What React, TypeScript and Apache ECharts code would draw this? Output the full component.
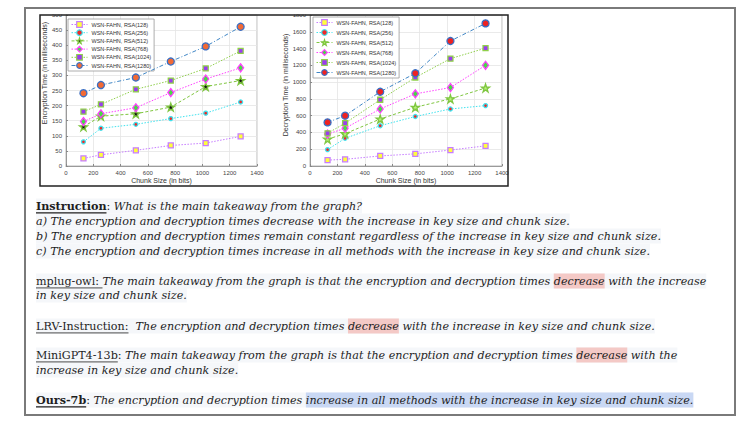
import React, { useEffect, useRef } from "react";
import * as echarts from "echarts";

// ---------- data ----------
const chunkSizes = [128, 256, 512, 768, 1024, 1280];
const seriesNames = [
  "WSN-FAHN, RSA(128)",
  "WSN-FAHN, RSA(256)",
  "WSN-FAHN, RSA(512)",
  "WSN-FAHN, RSA(768)",
  "WSN-FAHN, RSA(1024)",
  "WSN-FAHN, RSA(1280)",
];
const encRSA128 = [25, 37, 52, 68, 76, 98];
const encRSA256 = [80, 125, 138, 157, 175, 212];
const encRSA512 = [130, 165, 173, 195, 263, 283];
const encRSA768 = [147, 173, 193, 243, 288, 325];
const encRSA1024 = [180, 204, 254, 283, 323, 381];
const encRSA1280 = [241, 268, 293, 346, 396, 461];

const decRSA128 = [70, 80, 120, 145, 190, 240];
const decRSA256 = [195, 330, 480, 590, 680, 720];
const decRSA512 = [320, 385, 560, 700, 800, 930];
const decRSA768 = [380, 450, 680, 860, 935, 1200];
const decRSA1024 = [390, 510, 790, 1055, 1280, 1405];
const decRSA1280 = [520, 600, 885, 1105, 1490, 1700];

const encData = [encRSA128, encRSA256, encRSA512, encRSA768, encRSA1024, encRSA1280];
const decData = [decRSA128, decRSA256, decRSA512, decRSA768, decRSA1024, decRSA1280];

const xAxisMin = 0;
const xAxisMax = 1400;
const xAxisStep = 200;
const encAxisMax = 500;
const encAxisStep = 50;
const decAxisMax = 1800;
const decAxisStep = 200;

const xAxisTitle = "Chunk Size (in bits)";
const encAxisTitle = "Encryption Time (in milliseconds)";
const decAxisTitle = "Decryption Time (in milliseconds)";

// text block: [text, kind]
type Seg = [string, string];
const textLines: Seg[][] = [
  [["Instruction", "labelBold"], [": ", "plain"], ["What is the main takeaway from the graph?", "it"]],
  [["a) The encryption and decryption times decrease with the increase in key size and chunk size.", "it"]],
  [["b) The encryption and decryption times remain constant regardless of the increase in key size and chunk size.", "it"]],
  [["c) The encryption and decryption times increase in all methods with the increase in key size and chunk size.", "it"]],
  [["mplug-owl: ", "label"], ["The main takeaway from the graph is that the encryption and decryption times ", "it"], ["decrease", "pink"], [" with the increase", "it"]],
  [["in key size and chunk size.", "it"]],
  [["LRV-Instruction:", "label"], ["  The encryption and decryption times ", "it"], ["decrease", "pink"], [" with the increase in key size and chunk size.", "it"]],
  [["MiniGPT4-13b", "label"], [": ", "plain"], ["The main takeaway from the graph is that the encryption and decryption times ", "it"], ["decrease", "pink"], [" with the", "it"]],
  [["increase in key size and chunk size.", "it"]],
  [["Ours-7b", "labelBold"], [": ", "plain"], ["The encryption and decryption times ", "it"], ["increase in all methods with the increase in key size and chunk size.", "blue"]],
];
const lineCenters = [206, 221, 236, 251, 281, 295, 326, 355, 370, 400];

// ---------- styles ----------
const STAR = "path://M50,0L61.8,35.4L98.5,35.4L68.8,57.3L80.2,92.7L50,70.8L19.8,92.7L31.2,57.3L1.5,35.4L38.2,35.4Z";
const seriesStyles = [
  { line: "#c77dff", dash: [1.5, 1.5], symbol: "rect", size: 5, fillL: "#ffff3a", fillR: "#ffff3a", border: "#c77dff" },
  { line: "#3fe3ef", dash: [1.5, 1.5], symbol: "circle", size: 4, fillL: "#ee2a2a", fillR: "#ee2a2a", border: "#3fe3ef" },
  { line: "#7fc640", dash: [3, 2], symbol: STAR, size: 8, fillL: "#111111", fillR: "#b8f27a", border: "#7fc640" },
  { line: "#ff40ff", dash: [1.5, 1.5], symbol: "diamond", size: [6, 8], fillL: "#44dd44", fillR: "#44dd44", border: "#ff40ff" },
  { line: "#8fcf4a", dash: [1.5, 1.5], symbol: "rect", size: 5, fillL: "#9a3cf0", fillR: "#9a3cf0", border: "#8fcf4a" },
  { line: "#3f86c6", dash: [4, 2, 1, 2], symbol: "circle", size: 7, fillL: "#f26a35", fillR: "#ee2222", border: "#3a6fc4" },
];

const AXIS_FONT = "Liberation Sans, Arial, sans-serif";
const SERIF = '"DejaVu Serif", serif';

function axisX(gridIndex: number) {
  return {
    type: "value",
    gridIndex,
    min: xAxisMin,
    max: xAxisMax,
    interval: xAxisStep,
    name: xAxisTitle,
    nameLocation: "middle",
    nameGap: 11,
    nameTextStyle: { fontSize: 7, color: "#333", fontFamily: AXIS_FONT },
    axisLine: { show: true, lineStyle: { color: "#888", width: 0.8 } },
    axisTick: { show: true, inside: true, length: 2, lineStyle: { color: "#888" } },
    axisLabel: { fontSize: 6, color: "#444", margin: 4, fontFamily: AXIS_FONT, formatter: (v: number) => String(v) },
    splitLine: { show: true, lineStyle: { color: "#e4e4e4", width: 0.8 } },
  };
}
function axisY(gridIndex: number, max: number, step: number) {
  return {
    type: "value",
    gridIndex,
    min: 0,
    max,
    interval: step,
    axisLine: { show: true, lineStyle: { color: "#888", width: 0.8 } },
    axisTick: { show: true, inside: true, length: 2, lineStyle: { color: "#888" } },
    axisLabel: { fontSize: 6, color: "#444", margin: 4, fontFamily: AXIS_FONT, formatter: (v: number) => String(v) },
    splitLine: { show: true, lineStyle: { color: "#e4e4e4", width: 0.8 } },
  };
}

function buildSeries(data: number[][], gridIdx: number, right: boolean) {
  return data.map((vals, i) => {
    const st = seriesStyles[i];
    return {
      type: "line",
      name: seriesNames[i],
      xAxisIndex: gridIdx,
      yAxisIndex: gridIdx,
      data: chunkSizes.map((c, j) => [c, vals[j]]),
      symbol: st.symbol,
      symbolSize: st.size,
      showAllSymbol: true,
      lineStyle: { color: st.line, width: 1, type: st.dash },
      itemStyle: { color: right ? st.fillR : st.fillL, borderColor: st.border, borderWidth: 1.3 },
      emphasis: { disabled: true },
      z: 3 + i,
    };
  });
}

function buildLegend(left: number, top: number, gap: number, right: boolean) {
  return {
    left,
    top,
    orient: "vertical",
    itemWidth: 16,
    itemHeight: 7,
    itemGap: gap,
    padding: [2, 3, 2, 3],
    backgroundColor: "#fff",
    borderColor: "#999",
    borderWidth: 0.8,
    selectedMode: false,
    textStyle: { fontSize: 5.5, lineHeight: 7, color: "#333", fontFamily: AXIS_FONT, padding: [0, 0, 0, -1] },
    data: seriesNames.map((n, i) => {
      const st = seriesStyles[i];
      return {
        name: n,
        itemStyle: { color: right ? st.fillR : st.fillL, borderColor: st.border, borderWidth: 1.2 },
        lineStyle: { color: st.line, width: 1, type: st.dash },
      };
    }),
  };
}

function buildTextGraphics(): any[] {
  const cvs = document.createElement("canvas");
  const ctx = cvs.getContext("2d") as CanvasRenderingContext2D;
  const fontOf = (kind: string, fs: number) => {
    const italic = kind === "it" || kind === "pink" || kind === "blue";
    const bold = kind === "labelBold";
    return `${italic ? "italic" : "normal"} ${bold ? "bold" : "normal"} ${fs}px ${SERIF}`;
  };
  ctx.font = fontOf("it", 12);
  const ref = ctx.measureText(textLines[1][0][0]).width;
  const fs = (12 * 534) / ref;
  const out: any[] = [];
  textLines.forEach((segs, li) => {
    const yc = lineCenters[li];
    let x = 36;
    const start = x;
    segs.forEach(([t, kind]) => {
      ctx.font = fontOf(kind, fs);
      const w = ctx.measureText(t).width;
      if (kind === "pink" || kind === "blue") {
        out.push({
          type: "rect",
          silent: true,
          z: 2,
          shape: { x, y: yc - 7.5, width: w, height: 15 },
          style: { fill: kind === "pink" ? "#f4c9c6" : "#c9d8f4" },
        });
      }
      const italic = kind === "it" || kind === "pink" || kind === "blue";
      out.push({
        type: "text",
        silent: true,
        z: 3,
        x,
        y: yc,
        style: {
          text: t,
          fontSize: fs,
          fontFamily: SERIF,
          fontStyle: italic ? "italic" : "normal",
          fontWeight: kind === "labelBold" ? "bold" : "normal",
          fill: "#1e1e1e",
          align: "left",
          verticalAlign: "middle",
        },
      });
      if (kind === "label" || kind === "labelBold") {
        const uy = yc + fs * 0.62;
        out.push({
          type: "line",
          silent: true,
          z: 3,
          shape: { x1: x, y1: uy, x2: x + w, y2: uy },
          style: { stroke: "#1e1e1e", lineWidth: kind === "labelBold" ? 1.1 : 0.8 },
        });
      }
      x += w;
    });
    out.push({
      type: "rect",
      silent: true,
      z: 1,
      shape: { x: start, y: yc - 7.5, width: x - start, height: 15 },
      style: { fill: "#f5f7fa" },
    });
  });
  return out;
}

export default function App() {
  const ref = useRef<HTMLDivElement>(null);
  useEffect(() => {
    if (!ref.current) return;
    const chart = echarts.init(ref.current, undefined, { renderer: "svg" });
    const graphics: any[] = [
      {
        type: "rect",
        silent: true,
        z: 0,
        shape: { x: 25, y: 8, width: 710, height: 407 },
        style: { fill: "none", stroke: "#7a7a7a", lineWidth: 2 },
      },
      {
        type: "rect",
        silent: true,
        z: 50,
        shape: { x: 41, y: 9.5, width: 466, height: 5 },
        style: { fill: "#fff" },
      },
      {
        type: "rect",
        silent: true,
        z: 51,
        shape: { x: 40, y: 15, width: 468, height: 171 },
        style: { fill: "none", stroke: "#222", lineWidth: 1.5 },
      },
      {
        type: "text",
        silent: true,
        z: 10,
        x: 44,
        y: 73,
        rotation: Math.PI / 2,
        style: { text: encAxisTitle, fontSize: 7, fill: "#333", fontFamily: AXIS_FONT, align: "center", verticalAlign: "middle" },
      },
      {
        type: "text",
        silent: true,
        z: 10,
        x: 285,
        y: 85,
        rotation: Math.PI / 2,
        style: { text: decAxisTitle, fontSize: 7, fill: "#333", fontFamily: AXIS_FONT, align: "center", verticalAlign: "middle" },
      },
      ...buildTextGraphics(),
    ];
    chart.setOption({
      animation: false,
      backgroundColor: "#fff",
      grid: [
        { left: 66, top: 15, width: 191, height: 151, show: true, borderColor: "#aaa", borderWidth: 0.8, outerBoundsMode: "none" },
        { left: 310, top: 15, width: 192, height: 151, show: true, borderColor: "#aaa", borderWidth: 0.8, outerBoundsMode: "none" },
      ],
      xAxis: [axisX(0), axisX(1)],
      yAxis: [axisY(0, encAxisMax, encAxisStep), axisY(1, decAxisMax, decAxisStep)],
      legend: [buildLegend(68, 19, 1.2, false), buildLegend(313, 17, 3, true)],
      series: [...buildSeries(encData, 0, false), ...buildSeries(decData, 1, true)],
      graphic: { elements: graphics },
    });
    return () => chart.dispose();
  }, []);
  return <div ref={ref} style={{ position: "fixed", left: 0, top: 0, width: 747, height: 421 }} />;
}
